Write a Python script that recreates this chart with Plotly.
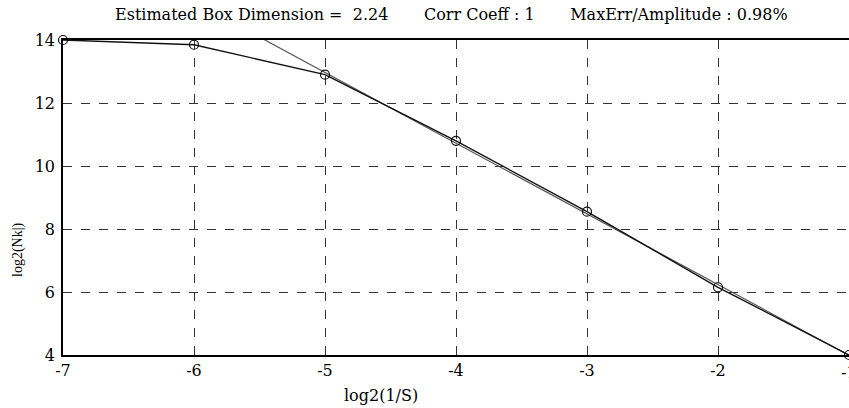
import numpy as np
import plotly.graph_objects as go

# Data
log2_inv_s = [-7, -6, -5, -4, -3, -2, -1]
log2_nk = [14.0, 13.85, 12.9, 10.8, 8.55, 6.15, 4.0]
fit_points = slice(2, 7)  # points used for the fit
x_ticks = [-7, -6, -5, -4, -3, -2, -1]
y_ticks = [4, 6, 8, 10, 12, 14]
title_text = ("Estimated Box Dimension =  2.24       Corr Coeff : 1       "
              "MaxErr/Amplitude : 0.98%")

xf = np.array(log2_inv_s[fit_points], dtype=float)
yf = np.array(log2_nk[fit_points], dtype=float)
slope, intercept = np.polyfit(xf, yf, 1)
fit_x = np.array(log2_inv_s, dtype=float)
fit_y = slope * fit_x + intercept

FONT = "DejaVu Serif, Liberation Serif, serif"

L, R, T, B = 63, 849, 40, 355
W, H = 849, 408
pw = R - L
ph = B - T

fig = go.Figure()
fig.add_trace(go.Scatter(
    x=fit_x, y=fit_y, mode="lines",
    line=dict(color="#555555", width=1.2),
    showlegend=False, hoverinfo="skip"))
fig.add_trace(go.Scatter(
    x=log2_inv_s, y=log2_nk, mode="lines+markers",
    line=dict(color="#111111", width=1.4),
    marker=dict(symbol="circle-open", size=9, color="#111111",
                line=dict(width=1.2, color="#111111")),
    showlegend=False, cliponaxis=False))

# the last x tick label sits on the page edge and is cut, as in the reference
edge_label = dict(text=str(x_ticks[-1]), xref="x", yref="paper",
                  x=x_ticks[-1], y=0, yshift=-17, xanchor="center",
                  yanchor="middle", showarrow=False,
                  font=dict(family=FONT, size=16))

fig.update_layout(
    width=W, height=H,
    margin=dict(l=L, r=W - R, t=T, b=H - B, autoexpand=False),
    paper_bgcolor="white", plot_bgcolor="white",
    font=dict(family=FONT, size=15, color="black"),
    xaxis=dict(range=[-7, -1], tickmode="array", tickvals=x_ticks[:-1],
               ticktext=[str(v) for v in x_ticks[:-1]],
               showgrid=True, gridcolor="#333333", griddash="dash", gridwidth=1,
               showline=True, linecolor="black", linewidth=1.5, mirror=True,
               zeroline=False, ticks="", ticklabelstandoff=0,
               tickfont=dict(family=FONT, size=16)),
    yaxis=dict(range=[4, 14], tickmode="array", tickvals=y_ticks,
               ticktext=[str(v) for v in y_ticks],
               showgrid=True, gridcolor="#333333", griddash="dash", gridwidth=1,
               showline=True, linecolor="black", linewidth=1.5, mirror=False,
               zeroline=False, ticks="", ticklabelstandoff=3,
               tickfont=dict(family=FONT, size=16)),
    annotations=[
        dict(text=title_text, xref="paper", yref="paper",
             x=(451 - L) / pw, y=1, yshift=26, xanchor="center",
             yanchor="middle", showarrow=False,
             font=dict(family=FONT, size=16)),
        dict(text="log2(1/S)", xref="paper", yref="paper",
             x=(381 - L) / pw, y=0, yshift=-40, xanchor="center",
             yanchor="middle", showarrow=False,
             font=dict(family=FONT, size=16)),
        dict(text="log2(Nk|)", xref="paper", yref="paper",
             x=0, xshift=-(L - 18), y=(B - 250) / ph, xanchor="center",
             yanchor="middle", textangle=-90, showarrow=False,
             font=dict(family="Liberation Serif, serif", size=14)),
        edge_label,
    ],
)

fig.write_html(
    "out.html",
    config={"displayModeBar": False},
    post_script="document.body.style.margin='0';document.body.style.padding='0';",
)
